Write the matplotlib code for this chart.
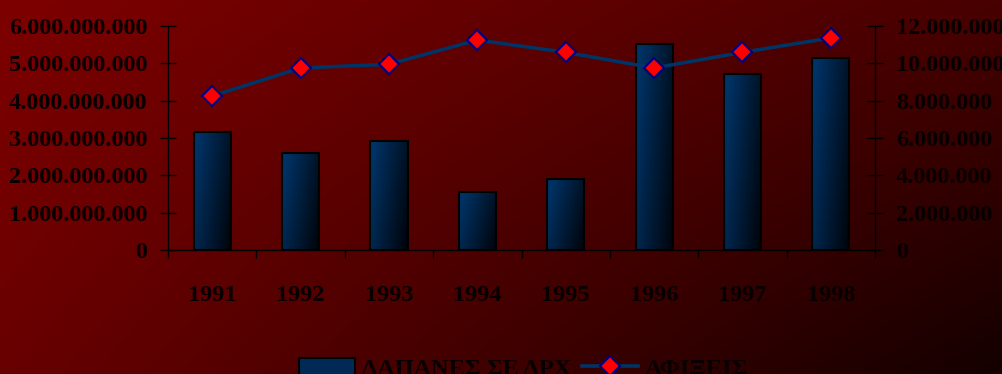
import numpy as np
import matplotlib
matplotlib.use("Agg")
import matplotlib.pyplot as plt
from matplotlib.ticker import FuncFormatter, FixedLocator
from matplotlib.lines import Line2D
from matplotlib.patches import Patch

years = ["1991", "1992", "1993", "1994", "1995", "1996", "1997", "1998"]
spending = [3.16e9, 2.61e9, 2.93e9, 1.54e9, 1.90e9, 5.51e9, 4.71e9, 5.13e9]
arrivals = [8.25e6, 9.75e6, 9.95e6, 11.25e6, 10.59e6, 9.75e6, 10.59e6, 11.36e6]
left_ticks = [0, 1e9, 2e9, 3e9, 4e9, 5e9, 6e9]
right_ticks = [0, 2e6, 4e6, 6e6, 8e6, 10e6, 12e6]
label_bar = "ΔΑΠΑΝΕΣ ΣΕ ΔΡΧ"
label_line = "ΑΦΙΞΕΙΣ"

FONT = "Liberation Serif"
FS = 17.5

fig = plt.figure(figsize=(10.03, 3.74), dpi=100)

# background gradient
bg = fig.add_axes([0, 0, 1, 1], zorder=-10)
u = np.linspace(0, 1, 300)[None, :]
v = np.linspace(0, 1, 120)[:, None]
TL, BL, TR, BR = 126, 104, 72, 20
red = (TL * (1 - u) * (1 - v) + TR * u * (1 - v) + BL * (1 - u) * v + BR * u * v) / 255.0
img = np.zeros((120, 300, 3))
img[..., 0] = red
bg.imshow(img, aspect="auto", extent=(0, 1, 0, 1), interpolation="bilinear")
bg.set_axis_off()

ax = fig.add_axes([0.1675, 0.3316, 0.7049, 0.5989])
ax.patch.set_alpha(0)
x = np.arange(len(years))
bars = ax.bar(x, spending, width=0.42, facecolor="none", edgecolor="black", linewidth=1.5, zorder=3)

# gradient fill for bars
gu = np.linspace(0, 1, 60)[None, :]
gv = np.linspace(0, 1, 120)[:, None]
t = np.clip(0.8 * gu + 0.35 * gv - 0.1, 0, 1)
top = np.array([0, 51, 102]) / 255.0
bot = np.array([0, 5, 12]) / 255.0
grad = top[None, None, :] * (1 - t[..., None]) + bot[None, None, :] * t[..., None]
for b in bars:
    x0, y0 = b.get_x(), b.get_y()
    w, h = b.get_width(), b.get_height()
    im = ax.imshow(grad, extent=(x0, x0 + w, y0, y0 + h), aspect="auto", zorder=2,
                   interpolation="bilinear", origin="upper")
    im.set_clip_path(b)

ax.set_xlim(-0.5, len(years) - 0.5)
ax.set_ylim(0, 6e9)

def dotfmt(val, pos):
    return f"{int(round(val)):,}".replace(",", ".")

ax.yaxis.set_major_locator(FixedLocator(left_ticks))
ax.yaxis.set_major_formatter(FuncFormatter(dotfmt))
ax.set_xticks(x)
ax.set_xticklabels(years)
ax.set_xticks(np.arange(-0.5, len(years)), minor=True)
ax.tick_params(axis="x", which="major", length=0, pad=25)
ax.tick_params(axis="x", which="minor", length=6, width=1, color="black", direction="out")
ax.tick_params(axis="y", which="major", length=12, width=1, direction="inout", color="black", pad=9)
for sp in ["top", "right"]:
    ax.spines[sp].set_visible(False)
for sp in ["left", "bottom"]:
    ax.spines[sp].set_color("black")
    ax.spines[sp].set_linewidth(1)

ax2 = ax.twinx()
ax2.patch.set_alpha(0)
ax2.plot(x, arrivals, color="#003366", linewidth=2.6, marker="D", markersize=10,
         markerfacecolor="#ff0000", markeredgecolor="#000080", markeredgewidth=1.5,
         zorder=5, clip_on=False)
ax2.set_ylim(0, 12e6)
ax2.yaxis.set_major_locator(FixedLocator(right_ticks))
ax2.yaxis.set_major_formatter(FuncFormatter(dotfmt))
ax2.tick_params(axis="y", which="major", length=12, width=1, direction="inout", color="black", pad=9)
for sp in ["top", "left", "bottom"]:
    ax2.spines[sp].set_visible(False)
ax2.spines["right"].set_color("black")
ax2.spines["right"].set_linewidth(1)

for a in (ax, ax2):
    for lbl in a.get_xticklabels() + a.get_yticklabels():
        lbl.set_fontfamily(FONT)
        lbl.set_fontweight("bold")
        lbl.set_fontsize(FS)
        lbl.set_color("#080000")

handles = [Patch(facecolor="#002a55", edgecolor="black", linewidth=1.5),
           Line2D([0], [0], color="#003366", linewidth=2.6, marker="D", markersize=10,
                  markerfacecolor="#ff0000", markeredgecolor="#000080", markeredgewidth=1.5)]
leg = fig.legend(handles, [label_bar, label_line], loc="center", bbox_to_anchor=(0.522, 0.014),
                 ncol=2, frameon=False, handlelength=2.3, columnspacing=0.45, handletextpad=0.3,
                 prop={"family": FONT, "weight": "bold", "size": FS})
for txt in leg.get_texts():
    txt.set_color("#080000")

fig.savefig("out.png", dpi=100)
